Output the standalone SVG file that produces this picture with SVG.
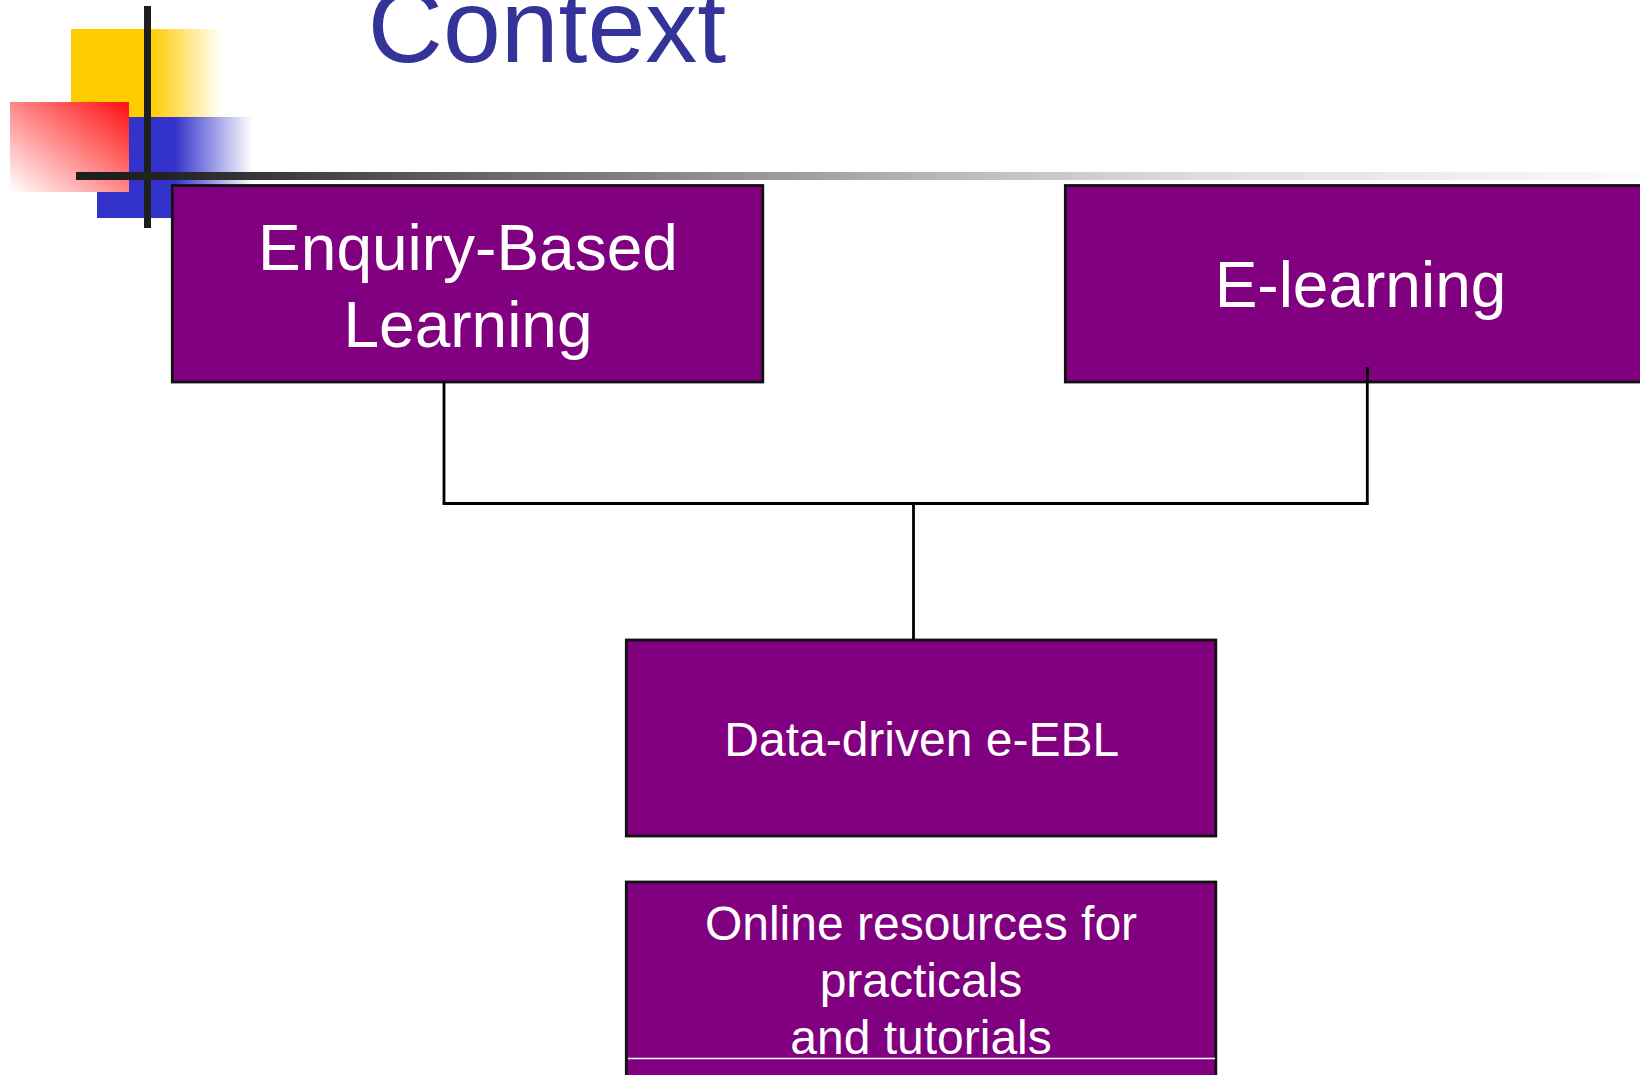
<svg xmlns="http://www.w3.org/2000/svg" width="1640" height="1075" viewBox="0 0 1640 1075">
<style>
.box{fill:#800080;stroke:#111;stroke-width:2.8}
.lbl{font-family:"Liberation Sans",Arial,sans-serif;fill:#fff;text-anchor:middle}
.big{font-size:64px}
.mid{font-size:48px}
.conn{stroke:#000;stroke-width:2.8;fill:none}
.title{font-family:"Liberation Sans",Arial,sans-serif;font-size:104px;fill:#333399;text-anchor:middle}
</style>
<defs>
<linearGradient id="gYellow" gradientUnits="userSpaceOnUse" x1="71" y1="0" x2="222" y2="0">
<stop offset="0" stop-color="#ffcc00"/>
<stop offset="0.53" stop-color="#ffcc00"/>
<stop offset="1" stop-color="#ffcc00" stop-opacity="0"/>
</linearGradient>
<linearGradient id="gBlue" gradientUnits="userSpaceOnUse" x1="97" y1="0" x2="252" y2="0">
<stop offset="0" stop-color="#3333cc"/>
<stop offset="0.5" stop-color="#3333cc"/>
<stop offset="1" stop-color="#3333cc" stop-opacity="0"/>
</linearGradient>
<linearGradient id="gRed" x1="1" y1="0" x2="0" y2="1">
<stop offset="0" stop-color="#ff0f0f"/>
<stop offset="1" stop-color="#ffffff"/>
</linearGradient>
<linearGradient id="gBar" gradientUnits="userSpaceOnUse" x1="76" y1="0" x2="1640" y2="0">
<stop offset="0" stop-color="#1e1e1e"/>
<stop offset="0.055" stop-color="#232323"/>
<stop offset="0.271" stop-color="#6a6a6a"/>
<stop offset="0.591" stop-color="#c2c2c2"/>
<stop offset="0.719" stop-color="#dddddd"/>
<stop offset="1" stop-color="#fbfbfb"/>
</linearGradient>
</defs>
<rect x="0" y="0" width="1640" height="1075" fill="#ffffff"/>
<g id="decoration">
<rect x="71" y="29" width="151" height="89" fill="url(#gYellow)"/>
<rect x="97" y="117" width="155" height="101" fill="url(#gBlue)"/>
<rect x="10" y="102" width="119" height="90" fill="url(#gRed)"/>
<rect x="144" y="6" width="7" height="222" fill="#1e1e1e"/>
<rect x="76" y="172" width="1564" height="8" fill="url(#gBar)"/>
</g>
<text id="title" class="title" x="547" y="62">Context</text>
<g id="node-ebl">
<rect class="box" x="172.3" y="185.5" width="590.5" height="196.5"/>
<text class="lbl big" x="468" y="269.5">Enquiry-Based</text>
<text class="lbl big" x="468" y="346.7">Learning</text>
</g>
<g id="node-elearning">
<rect class="box" x="1065.3" y="185.5" width="593" height="196.5"/>
<text class="lbl big" x="1360.5" y="307.3">E-learning</text>
</g>
<g id="node-data">
<rect class="box" x="626.3" y="640" width="589.5" height="196"/>
<text class="lbl mid" x="921.7" y="755.5">Data-driven e-EBL</text>
</g>
<g id="node-online">
<rect class="box" x="626.3" y="882" width="589.5" height="220"/>
<text class="lbl mid" x="921" y="940">Online resources for</text>
<text class="lbl mid" x="921" y="997.3">practicals</text>
<text class="lbl mid" x="921" y="1054">and tutorials</text>
<line x1="628" y1="1058.5" x2="1215" y2="1058.5" stroke="#ffffff" stroke-width="1.5"/>
</g>
<g id="connectors">
<line class="conn" x1="444" y1="382" x2="444" y2="503.5"/>
<line class="conn" x1="1367.3" y1="367" x2="1367.3" y2="503.5"/>
<line class="conn" x1="442.6" y1="503.5" x2="1368.7" y2="503.5"/>
<line class="conn" x1="913.5" y1="503.5" x2="913.5" y2="640"/>
</g>
</svg>
